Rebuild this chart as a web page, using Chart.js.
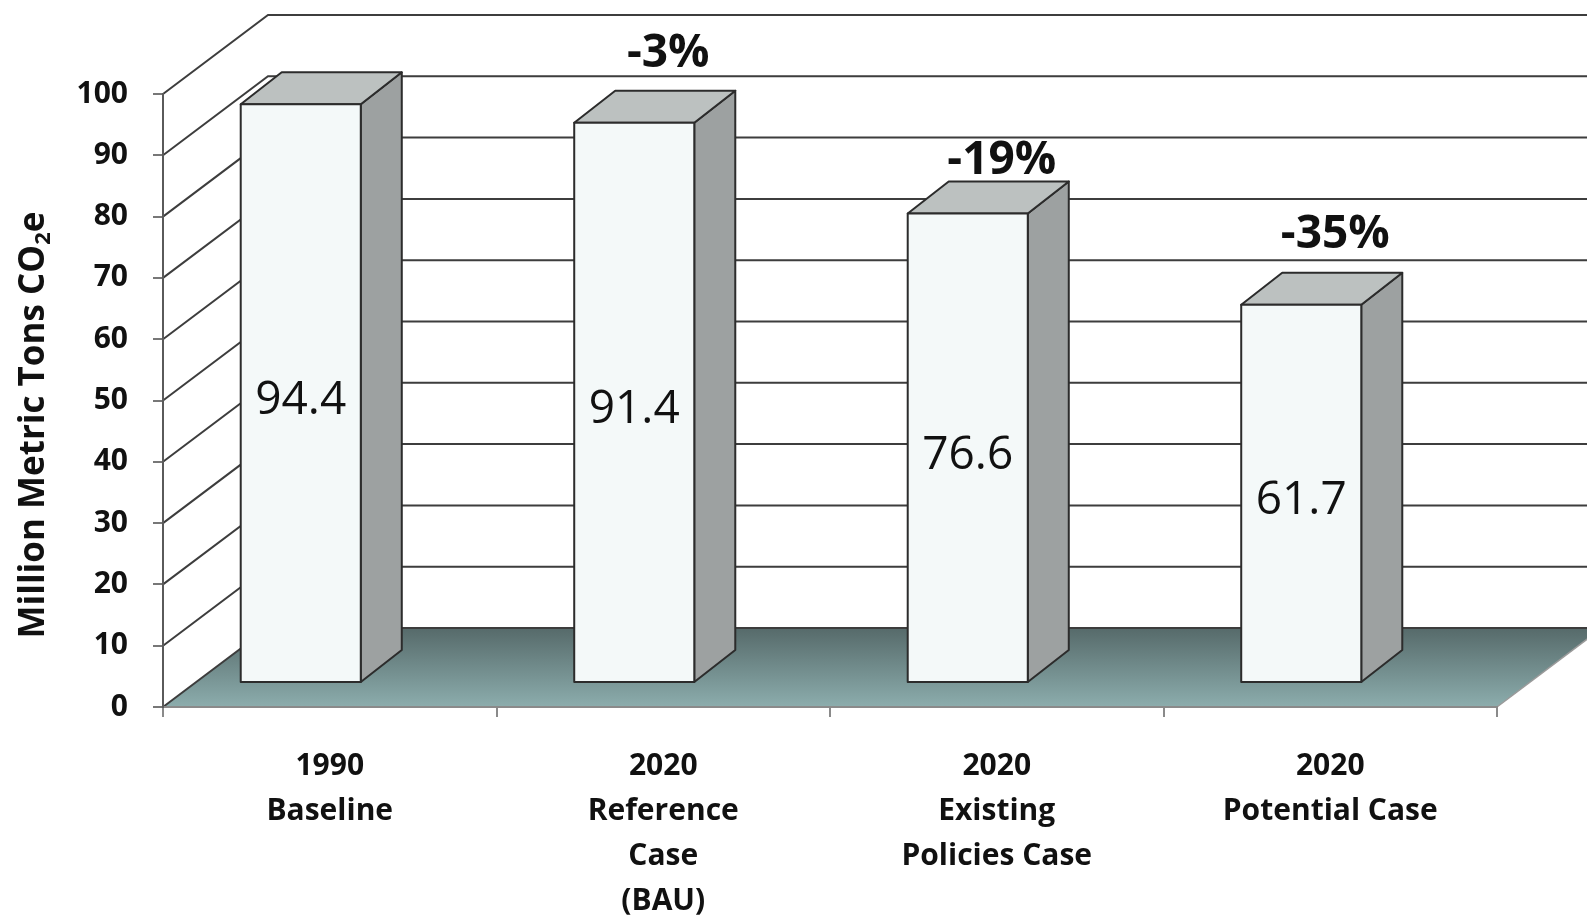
<!DOCTYPE html>
<html>
<head>
<meta charset="utf-8">
<title>Emissions by case</title>
<script src="https://cdn.jsdelivr.net/npm/chart.js@4.4.1/dist/chart.umd.min.js"></script>
<style>
  html, body { margin: 0; padding: 0; background: #ffffff; }
  #wrap { width: 1587px; height: 921px; position: relative; }
  canvas { display: block; }
</style>
</head>
<body>
<div id="wrap"><canvas id="chart" width="1587" height="921"></canvas></div>
<script>
// ---- data ----
const categories = [
  ['1990', 'Baseline'],
  ['2020', 'Reference', 'Case', '(BAU)'],
  ['2020', 'Existing', 'Policies Case'],
  ['2020', 'Potential Case']
];
const emissions = [94.4, 91.4, 76.6, 61.7];          // million metric tons CO2e
const changeFromBaseline = ['', '-3%', '-19%', '-35%'];
const yMin = 0, yMax = 100, yStep = 10;

// ---- 3D look ----
const FONT = '"Open Sans", "DejaVu Sans", sans-serif';
const WALL = { dx: 105, dy: -79 };                    // depth of the floor / walls
const BOX = { shiftX: -29, shiftY: -24, dx: 41, dy: -32 }; // bar placement inside the depth
const changeLift = [0, 37, 21, 38];                    // gap above each bar's top face
const COLORS = {
  front: '#f4f9f9', top: '#bcc1c0', side: '#9da1a1', edge: '#2c2c2c',
  grid: '#3d3d3d', floorBack: '#566a6a', floorFront: '#8cadad', text: '#111111'
};

// floor, side wall and back-wall gridlines, painted under the axes
const wallsPlugin = {
  id: 'walls',
  beforeDraw(chart) {
    const { ctx, chartArea: a, scales: { y } } = chart;
    ctx.save();
    const g = ctx.createLinearGradient(0, a.bottom + WALL.dy, 0, a.bottom);
    g.addColorStop(0, COLORS.floorBack);
    g.addColorStop(1, COLORS.floorFront);
    ctx.fillStyle = g;
    ctx.beginPath();
    ctx.moveTo(a.left, a.bottom);
    ctx.lineTo(a.right, a.bottom);
    ctx.lineTo(a.right + WALL.dx, a.bottom + WALL.dy);
    ctx.lineTo(a.left + WALL.dx, a.bottom + WALL.dy);
    ctx.closePath();
    ctx.fill();

    ctx.strokeStyle = COLORS.grid;
    ctx.lineWidth = 2;
    y.ticks.forEach(t => {
      const py = y.getPixelForValue(t.value);
      ctx.beginPath();
      ctx.moveTo(a.left, py);
      ctx.lineTo(a.left + WALL.dx, py + WALL.dy);
      ctx.lineTo(a.right + WALL.dx, py + WALL.dy);
      ctx.stroke();
    });
    // right edge of the floor
    ctx.strokeStyle = '#9a9a9a';
    ctx.lineWidth = 1.5;
    ctx.beginPath();
    ctx.moveTo(a.right, a.bottom);
    ctx.lineTo(a.right + WALL.dx, a.bottom + WALL.dy);
    ctx.stroke();
    ctx.restore();
  }
};

// solid boxes for each bar, with value and change labels
const boxPlugin = {
  id: 'boxes',
  afterDatasetsDraw(chart) {
    const { ctx } = chart;
    const meta = chart.getDatasetMeta(0);
    ctx.save();
    ctx.lineWidth = 2;
    ctx.lineJoin = 'round';
    ctx.strokeStyle = COLORS.edge;
    meta.data.forEach((el, i) => {
      const w = el.width;
      const x0 = el.x + BOX.shiftX - w / 2;
      const x1 = x0 + w;
      const yt = el.y + BOX.shiftY;
      const yb = el.base + BOX.shiftY;

      // side face
      ctx.fillStyle = COLORS.side;
      ctx.beginPath();
      ctx.moveTo(x1, yt);
      ctx.lineTo(x1 + BOX.dx, yt + BOX.dy);
      ctx.lineTo(x1 + BOX.dx, yb + BOX.dy);
      ctx.lineTo(x1, yb);
      ctx.closePath();
      ctx.fill(); ctx.stroke();

      // top face
      ctx.fillStyle = COLORS.top;
      ctx.beginPath();
      ctx.moveTo(x0, yt);
      ctx.lineTo(x1, yt);
      ctx.lineTo(x1 + BOX.dx, yt + BOX.dy);
      ctx.lineTo(x0 + BOX.dx, yt + BOX.dy);
      ctx.closePath();
      ctx.fill(); ctx.stroke();

      // front face
      ctx.fillStyle = COLORS.front;
      ctx.beginPath();
      ctx.rect(x0, yt, w, yb - yt);
      ctx.fill(); ctx.stroke();

      // value
      ctx.fillStyle = COLORS.text;
      ctx.textAlign = 'center';
      ctx.textBaseline = 'middle';
      ctx.font = '400 46px ' + FONT;
      ctx.fillText(emissions[i].toFixed(1), (x0 + x1) / 2, (yt + yb) / 2 + 8);

      // change versus baseline
      if (changeFromBaseline[i]) {
        ctx.font = '700 46px ' + FONT;
        ctx.fillText(changeFromBaseline[i], (x0 + x1) / 2 + 34, yt + BOX.dy - changeLift[i]);
      }
    });
    ctx.restore();
  }
};

// rotated axis title with a subscript
const yTitlePlugin = {
  id: 'yTitle',
  afterDraw(chart) {
    const { ctx } = chart;
    const main = 'Million Metric Tons CO', sub = '2', tail = 'e';
    const big = '700 35px ' + FONT, small = '700 22px ' + FONT;
    ctx.save();
    ctx.fillStyle = COLORS.text;
    ctx.textBaseline = 'alphabetic';
    ctx.textAlign = 'left';
    ctx.font = big;
    const wMain = ctx.measureText(main).width, wTail = ctx.measureText(tail).width;
    ctx.font = small;
    const wSub = ctx.measureText(sub).width;
    const total = wMain + wSub + wTail;
    ctx.translate(44, 425);
    ctx.rotate(-Math.PI / 2);
    let x = -total / 2;
    ctx.font = big; ctx.fillText(main, x, 0); x += wMain;
    ctx.font = small; ctx.fillText(sub, x, 6); x += wSub;
    ctx.font = big; ctx.fillText(tail, x, 0);
    ctx.restore();
  }
};

function build() {
  new Chart(document.getElementById('chart'), {
    type: 'bar',
    data: {
      labels: categories,
      datasets: [{
        data: emissions,
        backgroundColor: 'rgba(0,0,0,0)',
        borderWidth: 0,
        categoryPercentage: 1,
        barPercentage: 0.36
      }]
    },
    options: {
      responsive: false,
      animation: false,
      devicePixelRatio: 1,
      layout: { padding: { top: 94, right: 90, left: 0, bottom: 0 } },
      plugins: { legend: { display: false }, tooltip: { enabled: false } },
      scales: {
        x: {
          grid: { offset: true, drawOnChartArea: false, drawTicks: true, tickLength: 10, color: '#8a8a8a', lineWidth: 2 },
          border: { display: true, color: '#8a8a8a', width: 2 },
          ticks: {
            autoSkip: false, maxRotation: 0, minRotation: 0, padding: 27,
            color: COLORS.text, font: { family: FONT, size: 30, weight: '700', lineHeight: 1.5 }
          },
          afterFit(scale) { scale.height = 214; }
        },
        y: {
          min: yMin, max: yMax,
          grid: { drawOnChartArea: false, drawTicks: true, tickLength: 10, color: '#777777', lineWidth: 2 },
          border: { display: true, color: '#5a5a5a', width: 2 },
          ticks: {
            stepSize: yStep, padding: 25,
            color: COLORS.text, font: { family: FONT, size: 30, weight: '700' }
          },
          afterFit(scale) { scale.width = 163; }
        }
      }
    },
    plugins: [wallsPlugin, boxPlugin, yTitlePlugin]
  });
}

const fontLoads = ['400 46px "Open Sans"', '700 30px "Open Sans"'].map(f => document.fonts.load(f));
Promise.all(fontLoads).then(build, build);
</script>
</body>
</html>
